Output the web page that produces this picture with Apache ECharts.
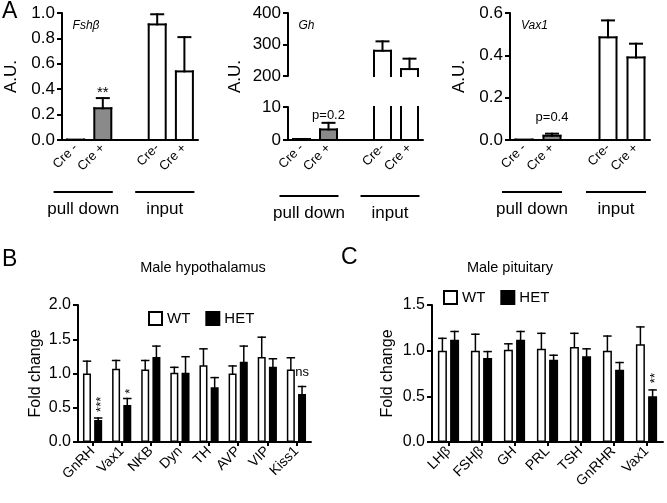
<!DOCTYPE html>
<html><head><meta charset="utf-8">
<script src="https://cdn.jsdelivr.net/npm/echarts@6/dist/echarts.min.js"></script>
<style>html,body{margin:0;padding:0;background:#fff}#c{width:667px;height:503px}</style>
</head><body><div id="c"></div>
<script>
// ---------- Panel A data ----------
const creLabels = ['Cre -', 'Cre +', '', 'Cre-', 'Cre +'];
const groupNames = ['pull down', 'input'];
const groupMembers = [[0, 1], [3, 4]];
const aFills = ['#ffffff', '#8a8a8a', null, '#ffffff', '#ffffff'];
const fshbMean = [0.003, 0.25, null, 0.91, 0.54];
const fshbErrTop = [0, 0.33, null, 0.99, 0.81];
const ghMean = [0.3, 3.2, null, 280, 222];
const ghErrTop = [0, 5.2, null, 310, 255];
const vax1Mean = [0.002, 0.02, null, 0.485, 0.39];
const vax1ErrTop = [0, 0.03, null, 0.565, 0.455];
const fshbNote = ['', '**', '', '', ''];
const fshbNoteAt = [null, 0.375, null, null, null];
const ghNote = ['', 'p=0.2', '', '', ''];
const ghNoteAt = [null, 7.4, null, null, null];
const vax1Note = ['', 'p=0.4', '', '', ''];
const vax1NoteAt = [null, 0.105, null, null, null];

// ---------- Panel B data (male hypothalamus) ----------
const hypoGenes = ['GnRH', 'Vax1', 'NKB', 'Dyn', 'TH', 'AVP', 'VIP', 'Kiss1'];
const hypoWT = [1.00, 1.07, 1.06, 1.01, 1.12, 1.00, 1.24, 1.06];
const hypoWTErrTop = [1.18, 1.19, 1.19, 1.09, 1.36, 1.11, 1.53, 1.23];
const hypoHET = [0.32, 0.54, 1.24, 1.01, 0.80, 1.17, 1.10, 0.70];
const hypoHETErrTop = [0.35, 0.635, 1.40, 1.245, 0.94, 1.40, 1.215, 0.81];
const hypoNote = ['***', '*', '', '', '', '', '', 'ns'];
const hypoNoteAt = [0.55, 0.74, null, null, null, null, null, 1.01];
const hypoNoteRot = [90, 90, 0, 0, 0, 0, 0, 0];

// ---------- Panel C data (male pituitary) ----------
const pitGenes = ['LHβ', 'FSHβ', 'GH', 'PRL', 'TSH', 'GnRHR', 'Vax1'];
const pitWT = [1.00, 1.00, 1.01, 1.02, 1.04, 1.00, 1.07];
const pitWTErrTop = [1.135, 1.18, 1.075, 1.19, 1.19, 1.16, 1.26];
const pitHET = [1.12, 0.92, 1.12, 0.90, 0.94, 0.79, 0.50];
const pitHETErrTop = [1.21, 0.99, 1.21, 0.95, 1.02, 0.87, 0.57];
const pitNote = ['', '', '', '', '', '', '**'];
const pitNoteAt = [null, null, null, null, null, null, 0.70];
const pitNoteRot = [0, 0, 0, 0, 0, 0, 90];

// ---------- styling ----------
const FONT = "'Liberation Sans', Arial, Helvetica, sans-serif";
const INK = '#000';
const BAR_A = 17, CAP_A = 12;
const BW_B = 8, GAP_B = 3.2, BW_C = 9, GAP_C = 3.2, CAP_BC = 7;

const chart = echarts.init(document.getElementById('c'), null, {renderer: 'canvas', width: 667, height: 503});

function seg(x1, y1, x2, y2, w) {
  return {type: 'line', shape: {x1, y1, x2, y2}, style: {stroke: INK, lineWidth: w || 2, lineCap: 'square'}};
}

function aBars(mean, errTop, xi, yi) {
  const data = [];
  mean.forEach((m, i) => { if (m !== null) data.push([i, m, errTop[i]]); });
  return {
    type: 'custom', xAxisIndex: xi, yAxisIndex: yi, silent: true, z: 3, data,
    renderItem(params, api) {
      const cs = params.coordSys;
      const i = api.value(0), v = api.value(1), e = api.value(2);
      const pv = api.coord([i, v]), p0 = api.coord([i, 0]), pe = api.coord([i, e]);
      const yMin = cs.y, yMax = cs.y + cs.height;
      let top = pv[1], bot = p0[1];
      const topOpen = top < yMin - 0.5, botOpen = bot > yMax + 0.5;
      top = Math.max(top, yMin); bot = Math.min(bot, yMax);
      if (top >= yMax) return null;
      const x0 = pv[0] - BAR_A / 2, x1 = pv[0] + BAR_A / 2;
      const ch = [{type: 'rect', shape: {x: x0, y: top, width: BAR_A, height: Math.max(bot - top, 0)}, style: {fill: aFills[i]}}];
      ch.push(seg(x0, top, x0, bot), seg(x1, top, x1, bot));
      if (!topOpen) ch.push(seg(x0, top, x1, top));
      if (!botOpen) ch.push(seg(x0, bot, x1, bot));
      if (!topOpen && e > v && pe[1] >= yMin - 0.5) {
        ch.push(seg(pv[0], top, pv[0], pe[1]), seg(pv[0] - CAP_A / 2, pe[1], pv[0] + CAP_A / 2, pe[1]));
      }
      return {type: 'group', children: ch};
    }
  };
}

function notes(texts, at, rots, xi, yi, dx, fs) {
  const data = [];
  at.forEach((a, i) => { if (a !== null) data.push([i, a]); });
  return {
    type: 'custom', xAxisIndex: xi, yAxisIndex: yi, silent: true, z: 5, data,
    renderItem(params, api) {
      const i = api.value(0);
      const p = api.coord([i, api.value(1)]);
      const rot = rots ? rots[i] : 0;
      const txt = texts[i];
      const star = /^\*+$/.test(txt);
      let x = p[0] + dx, y = p[1];
      if (star && rot) x += fs * 0.22;
      return {type: 'text', x, y, rotation: rot * Math.PI / 180,
        style: {text: txt, fontSize: fs, fontFamily: FONT, fill: INK, align: 'center', verticalAlign: 'middle'}};
    }
  };
}

function errBars(mean, errTop, xi, yi, dx) {
  return {
    type: 'custom', xAxisIndex: xi, yAxisIndex: yi, silent: true, z: 4,
    data: mean.map((m, i) => [i, m, errTop[i]]),
    renderItem(params, api) {
      const i = api.value(0);
      const p = api.coord([i, api.value(1)]), q = api.coord([i, api.value(2)]);
      const x = p[0] + dx;
      return {type: 'group', children: [
        seg(x, p[1], x, q[1], 1.5),
        seg(x - CAP_BC / 2, q[1], x + CAP_BC / 2, q[1], 1.5)
      ]};
    }
  };
}

const axisLineS = {show: true, lineStyle: {color: INK, width: 2}};
function yAx(gi, min, max, interval, dec, fs, name, gap) {
  return {
    type: 'value', gridIndex: gi, min, max, interval,
    axisLine: axisLineS, axisTick: {show: true, length: 5, lineStyle: {color: INK, width: 2}},
    splitLine: {show: false},
    axisLabel: {color: INK, fontSize: fs, fontFamily: FONT, margin: 7, showMinLabel: true, showMaxLabel: true,
      hideOverlap: false, formatter: v => v.toFixed(dec)},
    name: name || '', nameLocation: 'middle', nameRotate: 90, nameGap: gap || 40,
    nameTextStyle: {color: INK, fontSize: fs, fontFamily: FONT}
  };
}
function xAxA(gi, show) {
  return {
    type: 'category', gridIndex: gi, data: creLabels, show: show !== false,
    axisLine: axisLineS, axisTick: {show: false},
    axisLabel: {color: INK, fontSize: 13, fontFamily: FONT, rotate: 45, margin: 6, interval: 0}
  };
}
function xAxBC(gi, cats) {
  return {
    type: 'category', gridIndex: gi, data: cats,
    axisLine: axisLineS, axisTick: {show: true, alignWithLabel: true, length: 4, lineStyle: {color: INK, width: 2}},
    axisLabel: {color: INK, fontSize: 14, fontFamily: FONT, rotate: 45, margin: 7, interval: 0}
  };
}
function legendAt(left, top) {
  return {
    left, top, padding: 0, itemWidth: 13, itemHeight: 13, itemGap: 15, selectedMode: false,
    textStyle: {color: INK, fontSize: 15, fontFamily: FONT},
    data: [
      {name: 'WT', icon: 'rect', itemStyle: {color: '#fff', borderColor: INK, borderWidth: 2}},
      {name: 'HET', icon: 'rect', itemStyle: {color: INK, borderColor: INK, borderWidth: 2}}
    ]
  };
}

const option = {
  animation: false,
  backgroundColor: '#fff',
  grid: [
    {left: 62, top: 13, width: 136, height: 127},
    {left: 288, top: 13, width: 135, height: 63},
    {left: 288, top: 107, width: 135, height: 33},
    {left: 510, top: 13, width: 140, height: 127},
    {left: 78, top: 305, width: 233, height: 137},
    {left: 432, top: 305, width: 231, height: 137}
  ],
  xAxis: [xAxA(0), xAxA(1, false), xAxA(2), xAxA(3), xAxBC(4, hypoGenes), xAxBC(5, pitGenes)],
  yAxis: [
    yAx(0, 0, 1, 0.2, 1, 17, 'A.U.', 42),
    yAx(1, 200, 400, 100, 0, 17),
    yAx(2, 0, 10, 5, 0, 17),
    yAx(3, 0, 0.6, 0.2, 1, 17, 'A.U.', 42),
    yAx(4, 0, 2, 0.5, 1, 16, 'Fold change', 34),
    yAx(5, 0, 1.5, 0.5, 1, 16, 'Fold change', 36)
  ],
  legend: [legendAt(148, 311), legendAt(443, 290)],
  series: [
    aBars(fshbMean, fshbErrTop, 0, 0),
    aBars(ghMean, ghErrTop, 1, 1),
    aBars(ghMean, ghErrTop, 2, 2),
    aBars(vax1Mean, vax1ErrTop, 3, 3),
    notes(fshbNote, fshbNoteAt, null, 0, 0, 0, 15),
    notes(ghNote, ghNoteAt, null, 2, 2, 0, 13),
    notes(vax1Note, vax1NoteAt, null, 3, 3, 0, 13),
    {name: 'WT', type: 'bar', xAxisIndex: 4, yAxisIndex: 4, data: hypoWT, barWidth: BW_B, barGap: (GAP_B / BW_B * 100) + '%',
      itemStyle: {color: '#fff', borderColor: INK, borderWidth: 1.5}, silent: true},
    {name: 'HET', type: 'bar', xAxisIndex: 4, yAxisIndex: 4, data: hypoHET, barWidth: BW_B,
      itemStyle: {color: INK, borderColor: INK, borderWidth: 1.5}, silent: true},
    errBars(hypoWT, hypoWTErrTop, 4, 4, -(BW_B + GAP_B) / 2),
    errBars(hypoHET, hypoHETErrTop, 4, 4, (BW_B + GAP_B) / 2),
    notes(hypoNote, hypoNoteAt, hypoNoteRot, 4, 4, (BW_B + GAP_B) / 2, 13),
    {name: 'WT', type: 'bar', xAxisIndex: 5, yAxisIndex: 5, data: pitWT, barWidth: BW_C, barGap: (GAP_C / BW_C * 100) + '%',
      itemStyle: {color: '#fff', borderColor: INK, borderWidth: 1.5}, silent: true},
    {name: 'HET', type: 'bar', xAxisIndex: 5, yAxisIndex: 5, data: pitHET, barWidth: BW_C,
      itemStyle: {color: INK, borderColor: INK, borderWidth: 1.5}, silent: true},
    errBars(pitWT, pitWTErrTop, 5, 5, -(BW_C + GAP_C) / 2),
    errBars(pitHET, pitHETErrTop, 5, 5, (BW_C + GAP_C) / 2),
    notes(pitNote, pitNoteAt, pitNoteRot, 5, 5, (BW_C + GAP_C) / 2, 13)
  ]
};
chart.setOption(option);

// ---------- annotations placed from the axes ----------
const g = [];
function txt(x, y, text, fs, opts) {
  return Object.assign({type: 'text', x, y, silent: true,
    style: Object.assign({text, fontSize: fs, fontFamily: FONT, fill: INK, align: 'center', verticalAlign: 'middle'}, opts && opts.style || {})},
    opts && opts.el || {});
}
[[0, 52], [2, 56], [3, 52]].forEach(([gi, off]) => {
  groupMembers.forEach((mem, k) => {
    const a = chart.convertToPixel({gridIndex: gi}, [mem[0], 0]);
    const b = chart.convertToPixel({gridIndex: gi}, [mem[mem.length - 1], 0]);
    const x1 = a[0] - 22, x2 = b[0] + 10, y = a[1] + off;
    g.push({type: 'line', silent: true, shape: {x1, y1: y, x2, y2: y}, style: {stroke: INK, lineWidth: 2}});
    g.push(txt((x1 + x2) / 2, y + 17, groupNames[k], 17));
  });
});
// italic gene names in panel A
const gA = [[0, 'Fsh\u03b2', 1], [1, 'Gh', 400], [3, 'Vax1', 0.6]];
gA.forEach(([gi, t, top]) => {
  const p = chart.convertToPixel({gridIndex: gi}, [0, top]);
  g.push(txt(p[0] - 3, p[1] + 13, t, 12, {style: {align: 'left', fontStyle: 'italic'}}));
});
// A.U. for the broken-axis panel
const up = chart.convertToPixel({gridIndex: 1}, [0, 400]);
const lo = chart.convertToPixel({gridIndex: 2}, [0, 0]);
g.push(txt(235, (up[1] + lo[1]) / 2, 'A.U.', 17, {el: {rotation: Math.PI / 2}}));
// panel letters and titles
g.push(txt(2, 0, 'A', 23, {style: {align: 'left', verticalAlign: 'top'}}));
g.push(txt(2, 248, 'B', 23, {style: {align: 'left', verticalAlign: 'top'}}));
g.push(txt(341, 246, 'C', 23, {style: {align: 'left', verticalAlign: 'top'}}));
g.push(txt(203, 268, 'Male hypothalamus', 14.5));
g.push(txt(510, 268, 'Male pituitary', 14.5));
chart.setOption({graphic: g});
</script>
</body></html>
